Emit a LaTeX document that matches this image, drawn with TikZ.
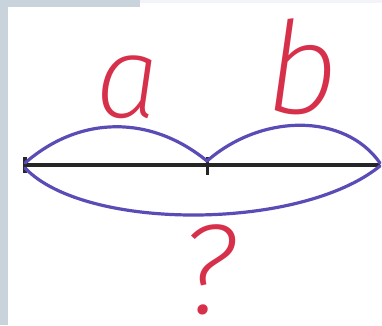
\documentclass[tikz,border=0pt]{standalone}
\usepackage{fontspec}
\usepackage{xcolor}
\usepackage{tikz}
\usetikzlibrary{positioning,calc}
\newfontfamily\hand{Fira Sans ExtraLight Italic}
\definecolor{frame}{HTML}{C9D3DB}
\definecolor{haze}{HTML}{F3F4F9}
\definecolor{brace}{HTML}{5A4CB6}
\definecolor{ink}{HTML}{D7304B}
\tikzset{
  seg/.style={line width=3.6pt,black!85},
  tick/.style={line width=4pt,black!85},
  arc/.style={line width=3.2pt,brace,line cap=round},
  lab/.style={text=ink,inner sep=0pt,font=\hand},
}

\begin{document}
\begin{tikzpicture}[x=1pt,y=-1pt]
\useasboundingbox (0,0) rectangle (382,325);
% page edge
\fill[haze] (140,0) rectangle (382,3);
\fill[frame] (0,0) rectangle (8,325);
\fill[frame] (0,0) rectangle (140,7);
% segment
\coordinate (L) at (25,165);
\coordinate (M) at (207,165);
\coordinate (R) at (380,165);
\draw[seg] (L) -- (R);
\draw[tick] ($(L)+(0,-8)$) -- ($(L)+(0,8)$);
\draw[tick,line width=3pt] ($(M)+(0,-8)$) -- ($(M)+(0,10)$);
% parts and whole
\draw[arc] ($(L)+(0,-2)$) .. controls (80,115) and (151,115) .. ($(M)+(0,-4)$);
\draw[arc] ($(M)+(0,-4)$) .. controls (262,113) and (345,113) .. ($(R)+(0,-2)$);
\draw[arc] ($(L)+(0,3)$) .. controls (85,231) and (300,231) .. ($(R)+(0,1)$);
% labels
\node[lab,font=\hand\fontsize{116}{116}\selectfont] (a) at (128,87) {a};
\node[lab,font=\hand\fontsize{128}{128}\selectfont] (b) at (302,67) {b};
\node[lab,font=\hand\fontsize{128}{128}\selectfont] (q) at (208,270) {?};
\end{tikzpicture}
\end{document}
